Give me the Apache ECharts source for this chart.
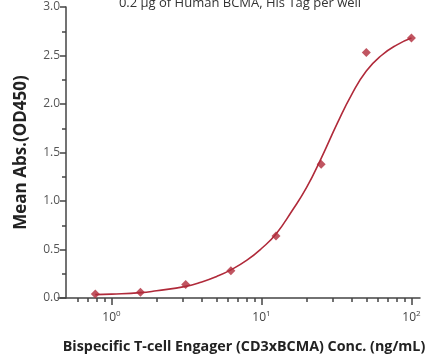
<!DOCTYPE html>
<html>
<head>
<meta charset="utf-8">
<script src="https://cdn.jsdelivr.net/npm/echarts@6/dist/echarts.min.js"></script>
<style>
  html, body { margin: 0; padding: 0; background: #fff; }
  #main { width: 426px; height: 360px; }
</style>
</head>
<body>
<div id="main"></div>
<script>
// measured points (2-fold dilution series)
const conc = [0.78, 1.56, 3.125, 6.25, 12.5, 25, 50, 100]
const absMean = [0.04, 0.06, 0.14, 0.28, 0.64, 1.38, 2.53, 2.68]

// fitted curve
const fitConc = [0.78, 1.0, 1.56, 2.0, 3.125, 4.0, 5.0, 6.25, 8.0, 10, 12.5, 16, 20, 25, 32, 40, 50, 63, 80, 100]
const fitAbs = [0.035, 0.04, 0.055, 0.075, 0.12, 0.165, 0.22, 0.29, 0.39, 0.51, 0.66, 0.9, 1.14, 1.44, 1.8, 2.1, 2.34, 2.5, 2.61, 2.68]

const majorX = [1, 10, 100]
const minorX = [0.6, 0.7, 0.8, 0.9, 2, 3, 4, 5, 6, 7, 8, 9, 20, 30, 40, 50, 60, 70, 80, 90]

const red = '#b02a3a'
const axisGray = '#444'
const xMin = 0.44, xMax = 114

const mychart = echarts.init(document.getElementById('main'))

const option = {
  animation: false,
  title: {
    text: '0.2 μg of Human BCMA, His Tag per well',
    left: 235,
    textAlign: 'center',
    top: -8,
    textStyle: { fontSize: 13, fontWeight: 'normal', color: '#333', fontFamily: 'Open Sans' }
  },
  grid: { left: 58, right: 6, top: 7, bottom: 62, outerBoundsMode: 'none', containLabel: false },
  xAxis: [
    {
      type: 'log',
      logBase: 10,
      min: xMin,
      max: xMax,
      name: 'Bispecific T-cell Engager (CD3xBCMA) Conc. (ng/mL)',
      nameLocation: 'middle',
      nameGap: 42,
      nameTextStyle: { fontSize: 14.3, fontWeight: 'bold', color: '#222', fontFamily: 'Open Sans', padding: [0, 0, 0, 10] },
      axisLine: { lineStyle: { color: axisGray, width: 1.5 } },
      axisTick: { customValues: majorX, length: 7, lineStyle: { color: axisGray, width: 1.5 } },
      axisLabel: {
        customValues: majorX,
        margin: 12,
        formatter: v => '10{sup|' + Math.round(Math.log10(v)) + '}',
        color: '#444',
        fontSize: 12,
        fontFamily: 'Open Sans',
        rich: { sup: { fontSize: 8, verticalAlign: 'top', padding: [0, 0, 8, 0], color: '#444' } }
      },
      splitLine: { show: false }
    },
    {
      type: 'log',
      logBase: 10,
      min: xMin,
      max: xMax,
      position: 'bottom',
      axisLine: { show: false },
      axisTick: { customValues: minorX, length: 4, lineStyle: { color: axisGray, width: 1.5 } },
      axisLabel: { show: false },
      splitLine: { show: false }
    }
  ],
  yAxis: {
    type: 'value',
    min: 0,
    max: 3,
    interval: 0.5,
    offset: -8,
    name: 'Mean Abs.(OD450)',
    nameLocation: 'middle',
    nameGap: 36,
    nameTextStyle: { fontSize: 17, fontWeight: 'bold', color: '#222', fontFamily: 'Open Sans' },
    axisLine: { show: true, lineStyle: { color: axisGray, width: 1.5 } },
    axisTick: { show: true, length: 6, lineStyle: { color: axisGray, width: 1.5 } },
    minorTick: { show: true, splitNumber: 2, length: 4, lineStyle: { color: axisGray, width: 1.5 } },
    axisLabel: {
      formatter: v => v.toFixed(1),
      color: '#555',
      fontSize: 12,
      fontFamily: 'Open Sans',
      margin: 6
    },
    splitLine: { show: false }
  },
  series: [
    {
      name: 'fit',
      type: 'line',
      smooth: true,
      showSymbol: false,
      data: fitConc.map((c, i) => [c, fitAbs[i]]),
      lineStyle: { color: red, width: 1.6 },
      z: 2
    },
    {
      name: 'mean',
      type: 'scatter',
      symbol: 'diamond',
      symbolSize: 9,
      data: conc.map((c, i) => [c, absMean[i]]),
      itemStyle: { color: red },
      z: 3
    }
  ]
}

mychart.setOption(option)
</script>
</body>
</html>
